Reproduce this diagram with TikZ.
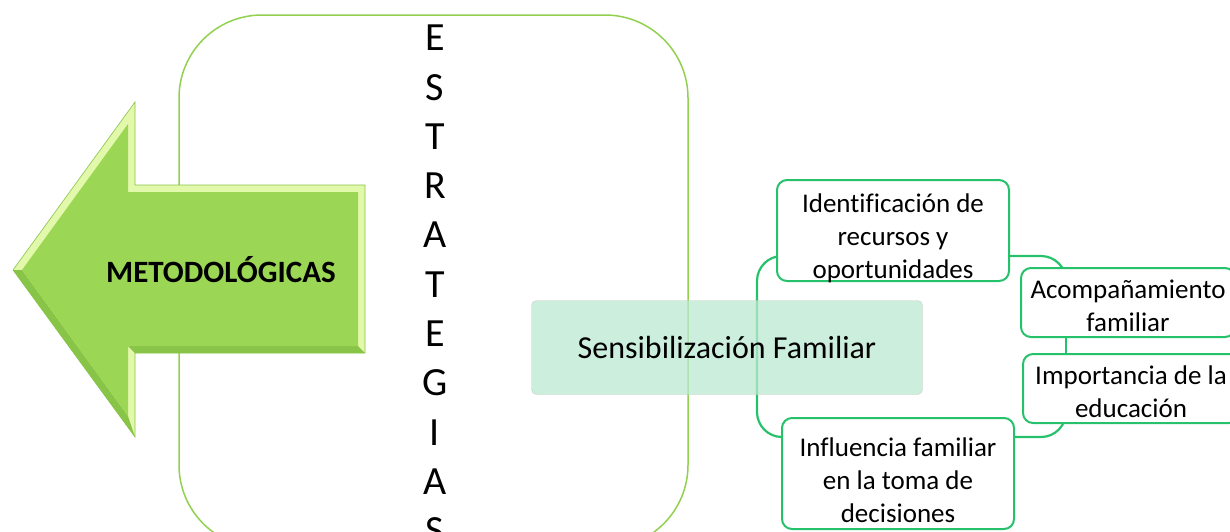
\documentclass[tikz,border=0pt]{standalone}
\usepackage{fontspec}
\setmainfont{Carlito}[Ligatures=NoCommon]
\usetikzlibrary{backgrounds}
\definecolor{marcoverde}{RGB}{146,208,80}
\definecolor{flechaverde}{RGB}{155,215,85}
\definecolor{flechaclaro}{RGB}{226,248,170}
\definecolor{flechaoscuro}{RGB}{136,196,72}
\definecolor{menta}{RGB}{187,232,210}
\definecolor{cajaverde}{RGB}{38,194,107}
\newcommand\bajar[2]{\raisebox{-#1}[\height][\depth]{\begin{tabular}{@{}c@{}}#2\end{tabular}}}
\tikzset{
  marco/.style={draw=marcoverde, line width=1.5pt, rounded corners=83pt},
  idea/.style={draw=cajaverde, line width=2pt, rounded corners=10pt, fill=white, inner sep=0pt, font=\fontsize{27}{33}\selectfont},
  enlace/.style={draw=cajaverde, line width=2.2pt, rounded corners=25pt},
}
\begin{document}
\begin{tikzpicture}[x=1pt, y=-1pt]
    \useasboundingbox (0,0) rectangle (1230,531);
    \clip (0,0) rectangle (1230,531);
    \node[marco, minimum width=509pt, minimum height=533pt] (marco) at (433.5,281.5) {};
    % flecha
    \fill[flechaclaro, draw=flechaoscuro, line width=0.6pt] (13,270) -- (135,102) -- (135,185) -- (365,185) -- (365,353) -- (135,353) -- (135,437) -- cycle;
    \fill[flechaoscuro] (13,270) -- (135,437) -- (128,416) -- (22,270) -- cycle;
    \fill[flechaoscuro] (135,353) -- (365,353) -- (358,346) -- (128,346) -- cycle;
    \fill[flechaverde] (22,270) -- (128,124) -- (128,192) -- (358,192) -- (358,346) -- (128,346) -- (128,416) -- cycle;
    \node[font=\fontsize{31}{37}\selectfont\bfseries] (meto) at (221,270) {METODOLÓGICAS};
    \node[align=center, font=\fontsize{40}{49.3}\selectfont] (estr) at (435,284.5) {E\\S\\T\\R\\A\\T\\E\\G\\I\\A\\S};
    % sensibilizacion
    \node[draw=black!20, fill=menta, fill opacity=0.75, text opacity=1, rounded corners=5pt, minimum width=391pt, minimum height=94pt, font=\fontsize{32}{38}\selectfont] (sensi) at (727,347.5) {Sensibilización Familiar};
    \node[idea, minimum width=232pt, minimum height=101pt] (ident) at (893,230.5) {\bajar{8pt}{Identificación de\\recursos y\\oportunidades}};
    \node[idea, minimum width=214pt, minimum height=69pt] (acomp) at (1128,302.5) {\bajar{6pt}{Acompañamiento\\familiar}};
    \node[idea, minimum width=216pt, minimum height=69pt] (impor) at (1131,388.5) {\bajar{6pt}{Importancia de la\\educación}};
    \node[idea, minimum width=232pt, minimum height=111pt] (influ) at (898,473.5) {\bajar{9pt}{Influencia familiar\\en la toma de\\decisiones}};
    \coordinate (anilloNO) at (757,256);
    \coordinate (anilloSE) at (1066,437);
    \begin{pgfonlayer}{background}
        \draw[enlace] (ident.center |- anilloNO) -- (anilloNO) -- (anilloNO |- anilloSE) -- (influ.center |- anilloSE);
        \draw[enlace] (ident.center |- anilloNO) -- (anilloNO -| anilloSE) -- (acomp.center -| anilloSE);
        \draw[enlace] (acomp.center -| anilloSE) -- (impor.center -| anilloSE);
        \draw[enlace] (impor.center -| anilloSE) -- (anilloSE) -- (influ.center |- anilloSE);
    \end{pgfonlayer}
\end{tikzpicture}
\end{document}
